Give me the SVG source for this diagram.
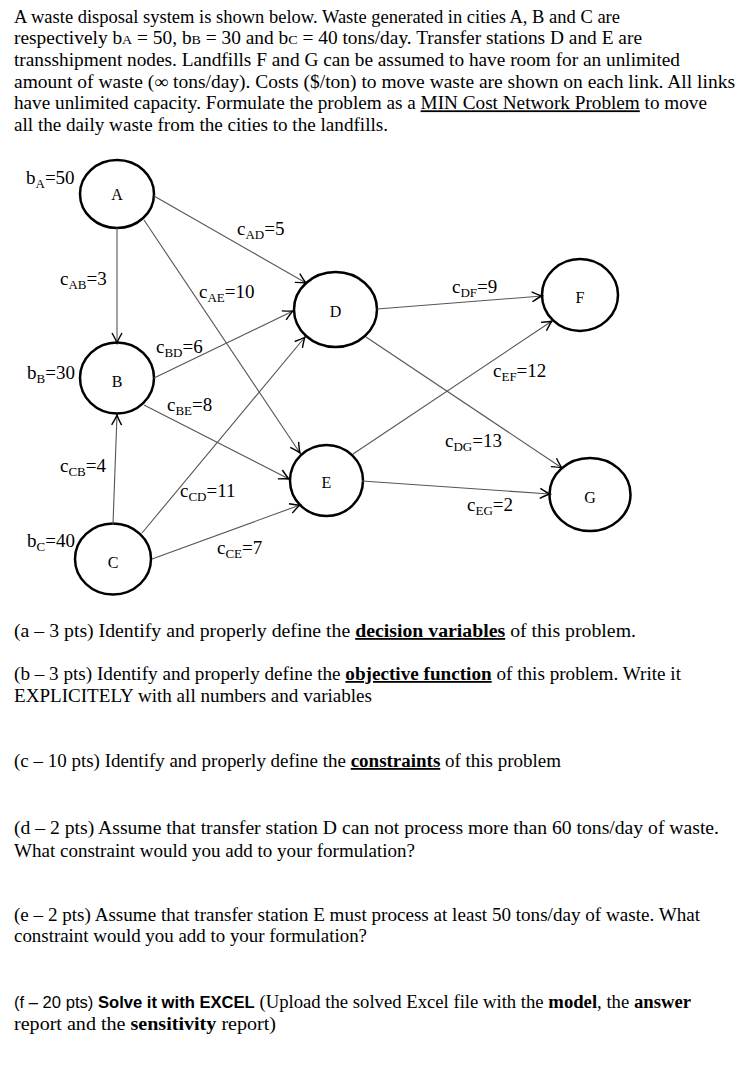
<svg xmlns="http://www.w3.org/2000/svg" width="756" height="1078" viewBox="0 0 756 1078" xml:space="preserve">
<defs>
<marker id="arr" markerUnits="userSpaceOnUse" markerWidth="14" markerHeight="12" viewBox="-11 -6 13 12" refX="0" refY="0" orient="auto"><path d="M -10,-5 Q -3,-1 0,0 Q -3,1 -10,5" fill="none" stroke="#000" stroke-width="1.4"/></marker>
</defs>
<style>
.t{font-family:"Liberation Serif","Times New Roman",serif;font-size:18px;fill:#000}
.lbl{font-family:"Liberation Serif","Times New Roman",serif;font-size:19px;fill:#000}
.sub{font-size:13px}
.nl{font-family:"Liberation Serif","Times New Roman",serif;font-size:16px;fill:#000;text-anchor:middle}
.node{fill:#fff;stroke:#000;stroke-width:2.5}
.edge{stroke:#555;stroke-width:1.1;fill:none;marker-end:url(#arr)}
.b{font-weight:bold}
.u{text-decoration:underline}
.sans{font-family:"Liberation Sans","Open Sans",sans-serif;font-size:16px}
</style>
<rect width="756" height="1078" fill="#fff"/>
<g id="intro">
<text class="t" x="14" y="22.5" textLength="606" lengthAdjust="spacingAndGlyphs">A waste disposal system is shown below.  Waste generated in cities A, B and C are</text>
<text class="t" x="14" y="44.2" textLength="628" lengthAdjust="spacingAndGlyphs">respectively b<tspan class="sub">A</tspan> = 50, b<tspan class="sub">B</tspan> = 30 and b<tspan class="sub">C</tspan> = 40 tons/day.  Transfer stations D and E are</text>
<text class="t" x="14" y="65.9" textLength="666" lengthAdjust="spacingAndGlyphs">transshipment nodes.  Landfills F and G can be assumed to have room for an unlimited</text>
<text class="t" x="14" y="87.6" textLength="721" lengthAdjust="spacingAndGlyphs">amount of waste (∞ tons/day).  Costs ($/ton) to move waste are shown on each link.  All links</text>
<text class="t" x="14" y="109.3" textLength="693" lengthAdjust="spacingAndGlyphs">have unlimited capacity.  Formulate the problem as a <tspan class="u">MIN Cost Network Problem</tspan> to move</text>
<text class="t" x="14" y="131" textLength="374" lengthAdjust="spacingAndGlyphs">all the daily waste from the cities to the landfills.</text>
</g>
<g id="nodes">
<g id="node-A"><ellipse class="node" cx="117" cy="194" rx="37" ry="34"/><text class="nl" x="117" y="200">A</text></g>
<g id="node-B"><ellipse class="node" cx="117" cy="378" rx="37" ry="35.5"/><text class="nl" x="117" y="387">B</text></g>
<g id="node-C"><ellipse class="node" cx="113" cy="559" rx="38" ry="35.5"/><text class="nl" x="113" y="568">C</text></g>
<g id="node-D"><ellipse class="node" cx="335.5" cy="309.5" rx="41.5" ry="37.5"/><text class="nl" x="335.5" y="317">D</text></g>
<g id="node-E"><ellipse class="node" cx="326.5" cy="480.5" rx="36.5" ry="35.5"/><text class="nl" x="326.5" y="488">E</text></g>
<g id="node-F"><ellipse class="node" cx="580" cy="295" rx="38" ry="36"/><text class="nl" x="580" y="303">F</text></g>
<g id="node-G"><ellipse class="node" cx="590" cy="494.5" rx="40.5" ry="36.5"/><text class="nl" x="590" y="503">G</text></g>
</g>
<g id="connectors">
<line class="edge" x1="117" y1="228" x2="117" y2="343"/>
<line class="edge" x1="154" y1="196" x2="306" y2="283"/>
<line class="edge" x1="144" y1="220" x2="300" y2="453"/>
<line class="edge" x1="154" y1="378" x2="293" y2="311"/>
<line class="edge" x1="144" y1="405" x2="289" y2="479"/>
<line class="edge" x1="113" y1="524" x2="117" y2="415"/>
<line class="edge" x1="142" y1="533" x2="305" y2="337"/>
<line class="edge" x1="152" y1="559" x2="300" y2="505"/>
<line class="edge" x1="377" y1="309" x2="542" y2="296"/>
<line class="edge" x1="366" y1="337" x2="562" y2="468"/>
<line class="edge" x1="353" y1="454" x2="552" y2="321"/>
<line class="edge" x1="362" y1="481" x2="550" y2="494"/>
</g>
<g id="labels">
<text class="lbl" x="26" y="184">b<tspan class="sub" dy="4">A</tspan><tspan dy="-4">=50</tspan></text>
<text class="lbl" x="27" y="379">b<tspan class="sub" dy="4">B</tspan><tspan dy="-4">=30</tspan></text>
<text class="lbl" x="27" y="547">b<tspan class="sub" dy="4">C</tspan><tspan dy="-4">=40</tspan></text>
<text class="lbl" x="237" y="235">c<tspan class="sub" dy="4">AD</tspan><tspan dy="-4">=5</tspan></text>
<text class="lbl" x="60" y="285">c<tspan class="sub" dy="4">AB</tspan><tspan dy="-4">=3</tspan></text>
<text class="lbl" x="199" y="298">c<tspan class="sub" dy="4">AE</tspan><tspan dy="-4">=10</tspan></text>
<text class="lbl" x="452" y="293">c<tspan class="sub" dy="4">DF</tspan><tspan dy="-4">=9</tspan></text>
<text class="lbl" x="156" y="353">c<tspan class="sub" dy="4">BD</tspan><tspan dy="-4">=6</tspan></text>
<text class="lbl" x="493" y="377">c<tspan class="sub" dy="4">EF</tspan><tspan dy="-4">=12</tspan></text>
<text class="lbl" x="167" y="411">c<tspan class="sub" dy="4">BE</tspan><tspan dy="-4">=8</tspan></text>
<text class="lbl" x="445" y="447">c<tspan class="sub" dy="4">DG</tspan><tspan dy="-4">=13</tspan></text>
<text class="lbl" x="60" y="472">c<tspan class="sub" dy="4">CB</tspan><tspan dy="-4">=4</tspan></text>
<text class="lbl" x="180" y="497">c<tspan class="sub" dy="4">CD</tspan><tspan dy="-4">=11</tspan></text>
<text class="lbl" x="467" y="511">c<tspan class="sub" dy="4">EG</tspan><tspan dy="-4">=2</tspan></text>
<text class="lbl" x="217" y="554">c<tspan class="sub" dy="4">CE</tspan><tspan dy="-4">=7</tspan></text>
</g>
<g id="questions">
<text class="t" x="14" y="637" textLength="622" lengthAdjust="spacingAndGlyphs">(a – 3 pts) Identify and properly define the <tspan class="b u">decision variables</tspan> of this problem.</text>
<text class="t" x="14" y="680" textLength="667" lengthAdjust="spacingAndGlyphs">(b – 3 pts) Identify and properly define the <tspan class="b u">objective function</tspan> of this problem.  Write it</text>
<text class="t" x="14" y="702" textLength="358" lengthAdjust="spacingAndGlyphs">EXPLICITELY with all numbers and variables</text>
<text class="t" x="14" y="767" textLength="547" lengthAdjust="spacingAndGlyphs">(c – 10 pts) Identify and properly define the <tspan class="b u">constraints</tspan> of this problem</text>
<text class="t" x="14" y="834" textLength="705" lengthAdjust="spacingAndGlyphs">(d – 2 pts) Assume that transfer station D can not process more than 60 tons/day of waste.</text>
<text class="t" x="14" y="857" textLength="401" lengthAdjust="spacingAndGlyphs">What constraint would you add to your formulation?</text>
<text class="t" x="14" y="921" textLength="686" lengthAdjust="spacingAndGlyphs">(e – 2 pts) Assume that transfer station E must process at least 50 tons/day of waste.  What</text>
<text class="t" x="14" y="942" textLength="353" lengthAdjust="spacingAndGlyphs">constraint would you add to your formulation?</text>
<text class="t" x="14" y="1008" textLength="677" lengthAdjust="spacingAndGlyphs"><tspan class="sans">(f – 20 pts) </tspan><tspan class="sans b">Solve it with EXCEL</tspan> (Upload the solved Excel file with the <tspan class="b">model</tspan>, the <tspan class="b">answer</tspan></text>
<text class="t" x="14" y="1030" textLength="262" lengthAdjust="spacingAndGlyphs">report and the <tspan class="b">sensitivity</tspan> report)</text>
</g>
</svg>
